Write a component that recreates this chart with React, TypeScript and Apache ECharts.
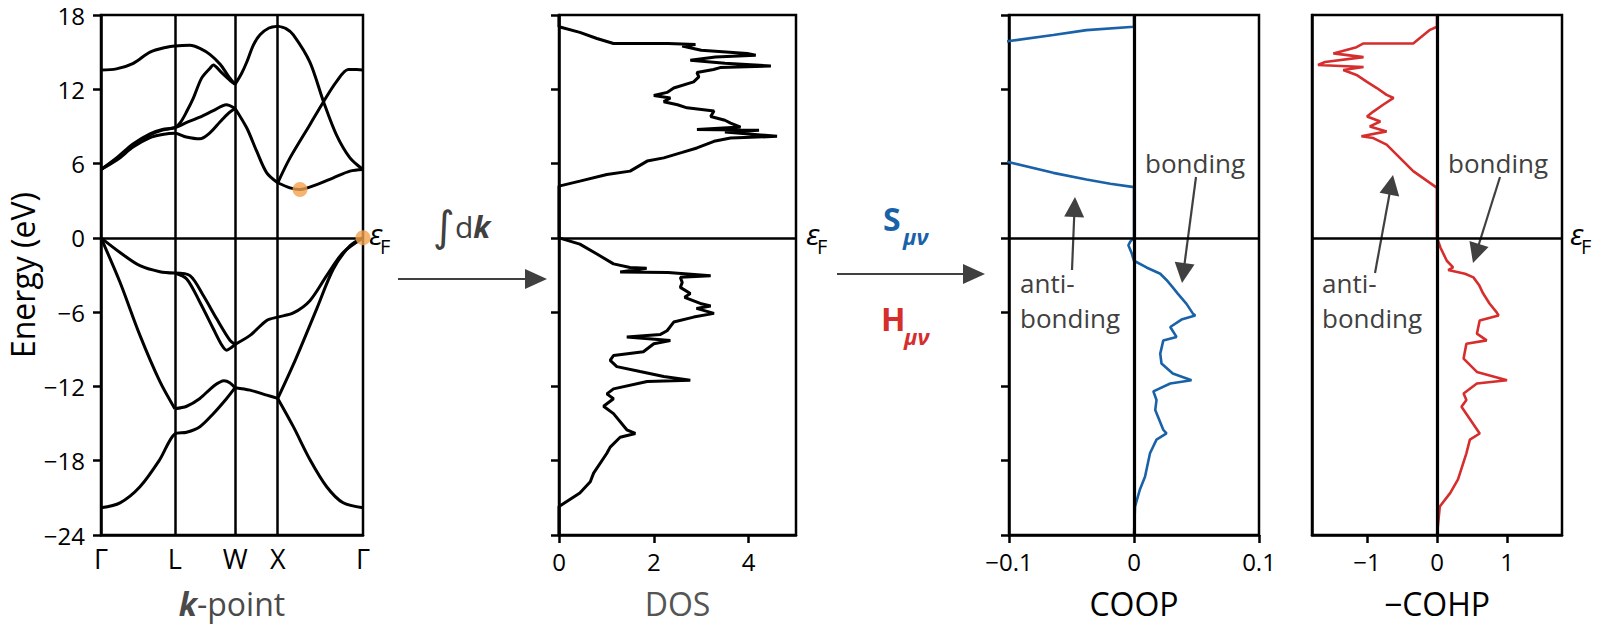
import React, { useEffect, useRef } from "react";
import * as echarts from "echarts";

const FONT = "Open Sans";
const GRAY = "#404040";
const BLUE = "#1a62a8";
const RED = "#d62d2d";

// k-path (fcc): Γ, L, W, X, Γ
const kTicks = [0, 0.866, 1.573, 2.073, 3.073];
const kLabels = ["Γ", "L", "W", "X", "Γ"];
const dosTicks = [0, 2, 4];
const coopTicks = [-0.1, 0, 0.1];
const cohpTicks = [-1, 0, 1];

// band structure curves [k, E]
const bandTopGLW = [[0, 13.56], [0.18, 13.65], [0.379, 14.1], [0.575, 15.0], [0.77, 15.4], [0.866, 15.5], [1.044, 15.55], [1.16, 15.3], [1.28, 14.8], [1.4, 14.0], [1.5, 13.0], [1.573, 12.4]];
const bandSteepLW = [[0, 5.52], [0.19, 6.5], [0.38, 7.6], [0.575, 8.4], [0.72, 8.75], [0.866, 8.9], [0.93, 9.3], [1.005, 10.2], [1.083, 11.28], [1.18, 12.9], [1.279, 13.7], [1.317, 13.96], [1.4, 13.45], [1.533, 12.6], [1.573, 12.4]];
const bandHumpLW = [[0, 5.52], [0.19, 6.42], [0.38, 7.52], [0.575, 8.32], [0.72, 8.7], [0.866, 8.9], [1.0, 9.3], [1.16, 9.75], [1.317, 10.27], [1.47, 10.75], [1.573, 10.45]];
const bandDipLW = [[0, 5.52], [0.19, 6.3], [0.38, 7.35], [0.575, 8.1], [0.72, 8.35], [0.866, 8.45], [1.0, 8.15], [1.16, 8.0], [1.28, 8.5], [1.4, 9.4], [1.5, 10.1], [1.573, 10.45]];
const bandWXDown = [[1.573, 10.45], [1.71, 8.87], [1.826, 7.0], [1.944, 5.25], [2.073, 4.45]];
const bandWXUp = [[1.573, 12.4], [1.65, 13.3], [1.71, 14.2], [1.787, 15.57], [1.865, 16.4], [1.97, 16.95], [2.073, 17.1]];
const bandXGDown = [[2.073, 17.1], [2.17, 16.9], [2.256, 16.4], [2.45, 14.2], [2.61, 11.0], [2.76, 8.34], [2.92, 6.46], [3.073, 5.52]];
const bandXGUp = [[2.073, 4.45], [2.217, 6.46], [2.45, 9.14], [2.61, 11.0], [2.76, 12.6], [2.9, 13.6], [3.0, 13.6], [3.073, 13.56]];
const bandXGLow = [[2.073, 4.45], [2.217, 4.04], [2.334, 3.91], [2.53, 4.3], [2.725, 4.85], [2.92, 5.39], [3.073, 5.52]];
const valTopGL = [[0, 0], [0.223, -1.18], [0.457, -2.25], [0.69, -2.73], [0.866, -2.84]];
const valOuterLW = [[0.866, -2.84], [1.005, -3.32], [1.16, -5.2], [1.317, -7.34], [1.42, -8.7], [1.474, -9.08], [1.53, -8.85], [1.573, -8.6]];
const valInnerLW = [[0.866, -2.84], [1.044, -3.05], [1.2, -4.66], [1.357, -6.54], [1.513, -8.28], [1.573, -8.6]];
const valWXG = [[1.573, -8.6], [1.748, -7.88], [1.944, -6.67], [2.073, -6.4], [2.256, -6.06], [2.45, -5.07], [2.647, -3.05], [2.84, -1.18], [3.073, 0]];
const valSteepGL = [[0, 0], [0.223, -3.59], [0.457, -7.88], [0.69, -11.6], [0.866, -13.8]];
const valMidLW = [[0.866, -13.8], [1.005, -13.6], [1.16, -12.97], [1.317, -12.0], [1.443, -11.55], [1.51, -11.7], [1.573, -12.1]];
const valLowGLW = [[0, -21.8], [0.223, -21.4], [0.457, -20.1], [0.69, -17.9], [0.866, -15.84], [1.005, -15.7], [1.16, -15.25], [1.317, -14.2], [1.474, -12.97], [1.573, -12.1]];
const valWX = [[1.573, -12.1], [1.748, -12.3], [1.944, -12.7], [2.073, -12.97]];
const valXGLow = [[2.073, -12.97], [2.256, -15.25], [2.45, -17.9], [2.647, -20.1], [2.84, -21.4], [3.073, -21.8]];
const valXGSteep = [[2.073, -12.97], [2.28, -9.85], [2.53, -5.73], [2.725, -2.52], [2.92, -0.64], [3.073, 0]];
const bandDots = [[2.334, 3.91], [3.073, 0]];

// DOS [dos, E]
const dosUpper = [[0, 18], [0, 17.05], [0.44, 16.6], [0.8, 16.1], [1.15, 15.7], [2.3, 15.7], [2.88, 15.62], [2.6, 15.5], [3.0, 15.15], [3.97, 14.9], [4.15, 14.75], [3.3, 14.6], [2.77, 14.35], [3.5, 14.1], [4.47, 13.88], [3.4, 13.75], [3.26, 13.6], [2.91, 13.35], [2.95, 13.0], [2.84, 12.6], [2.42, 12.1], [2.28, 11.75], [2.0, 11.5], [2.35, 11.3], [2.21, 11.0], [2.5, 10.75], [2.7, 10.5], [3.27, 10.25], [3.2, 9.8], [3.5, 9.5], [3.62, 9.27], [3.83, 8.95], [2.91, 8.75], [4.22, 8.7], [3.5, 8.55], [4.6, 8.2], [3.62, 8.06], [3.27, 7.8], [2.91, 7.26], [2.6, 6.9], [2.21, 6.46], [1.86, 6.2], [1.5, 5.39], [1.01, 5.12], [0.44, 4.58], [0, 4.18], [0, 0]];
const dosLower = [[0, 0], [0.44, -0.51], [0.8, -1.31], [1.15, -2.1], [1.5, -2.39], [1.85, -2.45], [1.29, -2.75], [2.3, -2.8], [3.2, -3.06], [2.56, -3.19], [2.6, -3.6], [2.56, -4.0], [2.77, -4.5], [2.65, -4.8], [2.98, -5.3], [3.2, -5.5], [2.9, -5.7], [3.27, -6.1], [2.84, -6.4], [2.42, -6.8], [2.28, -7.5], [2.14, -7.8], [1.43, -8.0], [2.35, -8.3], [2.0, -8.55], [1.78, -9.2], [1.15, -9.5], [1.08, -9.9], [1.22, -10.4], [1.71, -10.8], [2.21, -11.2], [2.77, -11.5], [1.86, -11.6], [1.15, -12.2], [1.01, -12.6], [1.15, -13.0], [0.94, -13.6], [1.15, -14.2], [1.43, -15.5], [1.61, -15.8], [1.29, -16.1], [1.08, -16.9], [1.01, -17.4], [0.73, -19.0], [0.66, -19.7], [0.44, -20.6], [0, -21.7], [0, -24]];

// COOP [coop, E]
const coopUpper = [[0, 18], [0, 17.05], [-0.038, 16.78], [-0.0646, 16.38], [-0.0998, 15.9], [-0.14, 15.3], [-0.2, 14.2], [-0.18, 12.0], [-0.2, 10.0], [-0.22, 8.5], [-0.14, 7.0], [-0.0998, 6.11], [-0.0646, 5.25], [-0.038, 4.72], [-0.019, 4.37], [0, 4.1], [0, 0]];
const coopLower = [[0, 0], [-0.003, -0.3], [-0.0045, -0.6], [-0.002, -1.2], [0, -1.85], [0.01, -2.39], [0.021, -2.9], [0.026, -3.4], [0.031, -4.0], [0.035, -4.5], [0.042, -5.33], [0.047, -6.1], [0.049, -6.27], [0.038, -6.6], [0.029, -7.2], [0.034, -8.0], [0.0234, -8.3], [0.021, -9.35], [0.022, -10.15], [0.031, -10.96], [0.046, -11.5], [0.029, -11.76], [0.0155, -12.4], [0.018, -13.1], [0.017, -13.9], [0.0234, -15.5], [0.026, -15.8], [0.018, -16.3], [0.0128, -17.4], [0.0088, -19.3], [0.0048, -20.3], [0.0008, -21.7], [0, -24]];

// -COHP [value, E]
const cohpUpper = [[0, 18], [0, 17.05], [-0.1, 16.8], [-0.34, 15.7], [-1.05, 15.7], [-1.15, 15.4], [-1.48, 14.9], [-1.05, 14.6], [-1.6, 14.2], [-1.7, 13.96], [-1.05, 13.8], [-1.34, 13.56], [-1.15, 13.16], [-1.0, 12.6], [-0.86, 12.1], [-0.72, 11.55], [-0.62, 11.3], [-0.77, 10.75], [-0.91, 10.2], [-1.0, 9.8], [-0.81, 9.4], [-0.96, 9.0], [-0.72, 8.6], [-1.08, 8.2], [-0.91, 8.06], [-0.72, 7.53], [-0.53, 6.46], [-0.34, 5.39], [0, 4.04], [0, 0]];
const cohpLower = [[0, 0], [0.05, -0.8], [0.14, -1.85], [0.23, -2.39], [0.16, -2.6], [0.4, -2.9], [0.52, -3.19], [0.6, -3.8], [0.66, -4.5], [0.75, -5.3], [0.85, -6.0], [0.88, -6.27], [0.61, -6.67], [0.57, -7.74], [0.71, -8.28], [0.42, -8.55], [0.38, -9.75], [0.57, -10.83], [1.0, -11.5], [0.57, -11.76], [0.38, -12.57], [0.42, -13.1], [0.35, -13.64], [0.61, -15.8], [0.47, -16.3], [0.42, -17.4], [0.3, -19.5], [0.19, -20.6], [0.04, -21.7], [0, -24]];

const bandCurves = [bandTopGLW, bandSteepLW, bandHumpLW, bandDipLW, bandWXDown, bandWXUp, bandXGDown, bandXGUp, bandXGLow, valTopGL, valOuterLW, valInnerLW, valWXG, valSteepGL, valMidLW, valLowGLW, valWX, valXGLow, valXGSteep];

const minus = (v: any) => String(v).replace("-", "\u2212");

function arrow(x1: number, y1: number, x2: number, y2: number, hl = 20, hw = 10) {
  const dx = x2 - x1, dy = y2 - y1;
  const L = Math.hypot(dx, dy);
  const ux = dx / L, uy = dy / L;
  const bx = x2 - ux * hl, by = y2 - uy * hl;
  return [
    { type: "line", shape: { x1, y1, x2: bx + ux * 3, y2: by + uy * 3 }, style: { stroke: GRAY, lineWidth: 2.2 } },
    { type: "polygon", shape: { points: [[x2, y2], [bx - uy * hw, by + ux * hw], [bx + uy * hw, by - ux * hw]] }, style: { fill: GRAY } },
  ];
}

function txt(text: string, x: number, y: number, size: number, fill: string, extra: any = {}) {
  return { type: "text", x, y, style: { text, fontSize: size, fontFamily: FONT, fill, align: "left", verticalAlign: "middle", ...extra } };
}

export default function App() {
  const ref = useRef<HTMLDivElement>(null);
  useEffect(() => {
    if (!ref.current) return;
    const chart = echarts.init(ref.current, undefined, { renderer: "svg" });
    const grids = [
      { left: 101, top: 15, width: 262, height: 520 },
      { left: 559, top: 15, width: 237, height: 520 },
      { left: 1009, top: 15, width: 250, height: 520 },
      { left: 1312, top: 15, width: 250, height: 520 },
    ].map((g) => ({ ...g, show: true, borderColor: "#000", borderWidth: 2.5, backgroundColor: "transparent" }));

    const axisLine = { show: true, onZero: false, lineStyle: { color: "#000", width: 2.5 } };
    const nameStyle = { fontSize: 32, fontFamily: FONT, color: "#000" };

    const yAx = (i: number, label: boolean, tick: boolean) => ({
      type: "value", gridIndex: i, min: -24, max: 18, interval: 6,
      axisLine,
      axisTick: { show: tick, length: 8, lineStyle: { color: "#000", width: 2.5 } },
      axisLabel: { show: label, fontSize: 24, lineHeight: 20, fontFamily: FONT, color: "#000", margin: 16, formatter: minus },
      splitLine: { show: false },
      ...(i === 0 ? { name: "Energy (eV)", nameLocation: "middle", nameGap: 63, nameRotate: 90, nameTextStyle: { ...nameStyle, lineHeight: 32 } } : {}),
    });

    const xAx = (i: number, min: number, max: number, ticks: number[], name: any, nameColor: string, fmt: any, showTick: boolean, labelSize = 24, rich: any = undefined) => ({
      type: "value", gridIndex: i, min, max,
      axisLine,
      axisTick: { show: showTick, length: 8, customValues: ticks, lineStyle: { color: "#000", width: 2.5 } },
      axisLabel: { show: true, customValues: ticks, fontSize: labelSize, fontFamily: FONT, color: "#000", margin: showTick ? 14 : 10, formatter: fmt },
      splitLine: { show: false },
      name, nameLocation: "middle", nameGap: 52,
      nameTextStyle: { ...nameStyle, color: nameColor, rich },
    });

    const kFmt = (v: number) => {
      let best = 0;
      kTicks.forEach((t, j) => { if (Math.abs(t - v) < Math.abs(kTicks[best] - v)) best = j; });
      return kLabels[best];
    };

    const hLine = { yAxis: 0, lineStyle: { color: "#000", width: 2.5, type: "solid" } };
    const ml = (data: any[]) => ({ silent: true, symbol: ["none", "none"], label: { show: false }, lineStyle: { color: "#000", width: 2.5, type: "solid" }, data });

    const series: any[] = bandCurves.map((d, j) => ({
      type: "line", xAxisIndex: 0, yAxisIndex: 0, data: d, smooth: 0.3, showSymbol: false, symbol: "none",
      lineStyle: { color: "#000", width: 3 },
      ...(j === 0 ? { markLine: ml([hLine, ...kTicks.slice(1, 4).map((k) => ({ xAxis: k }))]) } : {}),
    }));
    series.push({
      type: "scatter", xAxisIndex: 0, yAxisIndex: 0, data: bandDots, symbolSize: 15, clip: false, z: 5,
      itemStyle: { color: "#f2a24e", opacity: 0.8 },
    });
    [dosUpper, dosLower].forEach((d, j) => series.push({
      type: "line", xAxisIndex: 1, yAxisIndex: 1, data: d, showSymbol: false, symbol: "none",
      lineStyle: { color: "#000", width: 3 },
      ...(j === 0 ? { markLine: ml([hLine]) } : {}),
    }));
    [coopUpper, coopLower].forEach((d, j) => series.push({
      type: "line", xAxisIndex: 2, yAxisIndex: 2, data: d, showSymbol: false, symbol: "none", clip: true,
      lineStyle: { color: BLUE, width: 2.6 },
      ...(j === 0 ? { markLine: ml([hLine, { xAxis: 0, lineStyle: { color: "#000", width: 3.2, type: "solid" } }]) } : {}),
    }));
    [cohpUpper, cohpLower].forEach((d, j) => series.push({
      type: "line", xAxisIndex: 3, yAxisIndex: 3, data: d, showSymbol: false, symbol: "none", clip: true,
      lineStyle: { color: RED, width: 2.6 },
      ...(j === 0 ? { markLine: ml([hLine, { xAxis: 0, lineStyle: { color: "#000", width: 3.2, type: "solid" } }]) } : {}),
    }));

    const eF = (x: number) => [
      txt("ε", x, 233, 30, "#000", { fontStyle: "italic" }),
      txt("F", x + 11, 246, 20, "#000"),
    ];

    const graphics: any[] = [
      ...eF(369), ...eF(806), ...eF(1570),
      ...arrow(398, 279, 547, 279, 22, 10),
      ...arrow(837, 274, 985, 274, 22, 10),
      { type: "text", x: 433, y: 226, style: { text: "{i|∫}{d|d}{k|k}", fontFamily: FONT, fill: GRAY, align: "left", verticalAlign: "middle",
        rich: { i: { fontSize: 42, fontFamily: "DejaVu Sans", fill: GRAY }, d: { fontSize: 30, fontFamily: FONT, fill: GRAY }, k: { fontSize: 30, fontFamily: FONT, fontWeight: "bold", fontStyle: "italic", fill: GRAY } } } },
      txt("S", 883, 218, 32, BLUE, { fontWeight: "bold" }),
      txt("μν", 903, 236, 22, BLUE, { fontWeight: "bold", fontStyle: "italic" }),
      txt("H", 881, 318, 32, RED, { fontWeight: "bold" }),
      txt("μν", 904, 336, 22, RED, { fontWeight: "bold", fontStyle: "italic" }),
      txt("bonding", 1145, 163, 26, GRAY),
      txt("anti-", 1020, 283, 26, GRAY),
      txt("bonding", 1020, 318, 26, GRAY),
      txt("bonding", 1448, 163, 26, GRAY),
      txt("anti-", 1322, 283, 26, GRAY),
      txt("bonding", 1322, 318, 26, GRAY),
      ...arrow(1196, 177, 1182, 283),
      ...arrow(1072, 270, 1075, 197),
      ...arrow(1500, 177, 1473, 263),
      ...arrow(1375, 273, 1393, 175),
    ];

    chart.setOption({
      animation: false,
      textStyle: { fontFamily: FONT },
      grid: grids,
      xAxis: [
        xAx(0, 0, 3.073, kTicks, "{k|k}-point", "#4a4a4a", kFmt, false, 27, { k: { fontSize: 32, fontFamily: FONT, fontWeight: "bold", fontStyle: "italic", color: "#4a4a4a" } }),
        xAx(1, 0, 5, dosTicks, "DOS", "#555", minus, true),
        xAx(2, -0.1, 0.1, coopTicks, "COOP", "#000", minus, true),
        xAx(3, -1.786, 1.786, cohpTicks, "\u2212COHP", "#000", minus, true),
      ],
      yAxis: [yAx(0, true, true), yAx(1, false, true), yAx(2, false, true), yAx(3, false, false)],
      series,
      graphic: { elements: graphics },
    });
    return () => chart.dispose();
  }, []);
  return <div ref={ref} style={{ position: "absolute", left: 0, top: 0, width: 1600, height: 626, background: "#fff" }} />;
}
